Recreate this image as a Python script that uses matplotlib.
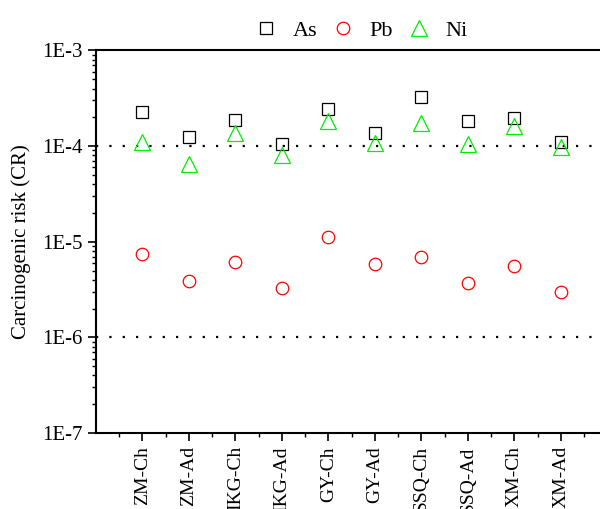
import matplotlib.pyplot as plt
import numpy as np

sites = ["ZM-Ch", "ZM-Ad", "IKG-Ch", "IKG-Ad", "GY-Ch",
         "GY-Ad", "SSQ-Ch", "SSQ-Ad", "XM-Ch", "XM-Ad"]
as_cr = [2.25e-4, 1.25e-4, 1.87e-4, 1.06e-4, 2.44e-4,
         1.37e-4, 3.3e-4, 1.81e-4, 1.96e-4, 1.1e-4]
pb_cr = [7.4e-6, 3.9e-6, 6.2e-6, 3.3e-6, 1.11e-5,
         5.9e-6, 6.9e-6, 3.7e-6, 5.6e-6, 3.0e-6]
ni_cr = [1.1e-4, 6.5e-5, 1.38e-4, 8.1e-5, 1.84e-4,
         1.09e-4, 1.74e-4, 1.04e-4, 1.63e-4, 9.8e-5]

plt.rcParams["font.family"] = ["Liberation Serif", "DejaVu Serif"]

fig = plt.figure(figsize=(6, 5.09), dpi=100)
ax = fig.add_axes([0.16, 0.1493, 0.84, 0.7515])

x = np.arange(1, len(sites) + 1)
ax.plot(x, as_cr, ls="none", marker="s", ms=9, mfc="none", mec="black", mew=0.9, label="As")
ax.plot(x, pb_cr, ls="none", marker="o", ms=9, mfc="none", mec="red", mew=0.9, label="Pb")
ax.plot(x, ni_cr, ls="none", marker="^", ms=11, mfc="none", mec="#00ee00", mew=0.9, label="Ni")

for level in (1e-4, 1e-6):
    ax.axhline(level, color="black", ls=(0, (1, 5)), lw=1.6, zorder=0)

ax.set_yscale("log")
ax.set_ylim(1e-7, 1e-3)
ax.set_xlim(0, 10.84)
ax.set_yticks([1e-7, 1e-6, 1e-5, 1e-4, 1e-3])
ax.set_yticklabels(["1E-7", "1E-6", "1E-5", "1E-4", "1E-3"], fontsize=15)
ax.set_xticks(x)
ax.set_xticklabels(sites, rotation=90, fontsize=14)
ax.set_xticks(np.arange(0.5, 11, 1), minor=True)
ax.tick_params(axis="both", which="major", direction="out", length=6, width=1.2)
ax.tick_params(axis="both", which="minor", direction="out", length=3, width=1.0)
ax.set_ylabel("Carcinogenic risk (CR)", fontsize=15, labelpad=8)

for side in ("left", "bottom", "top"):
    ax.spines[side].set_linewidth(1.5)
ax.spines["right"].set_visible(False)

fig.legend(loc="center", bbox_to_anchor=(0.602, 0.94), ncol=3, frameon=False,
           fontsize=16, handletextpad=0.7, columnspacing=0.65, handlelength=1.0)

fig.savefig("out.png", dpi=100)
